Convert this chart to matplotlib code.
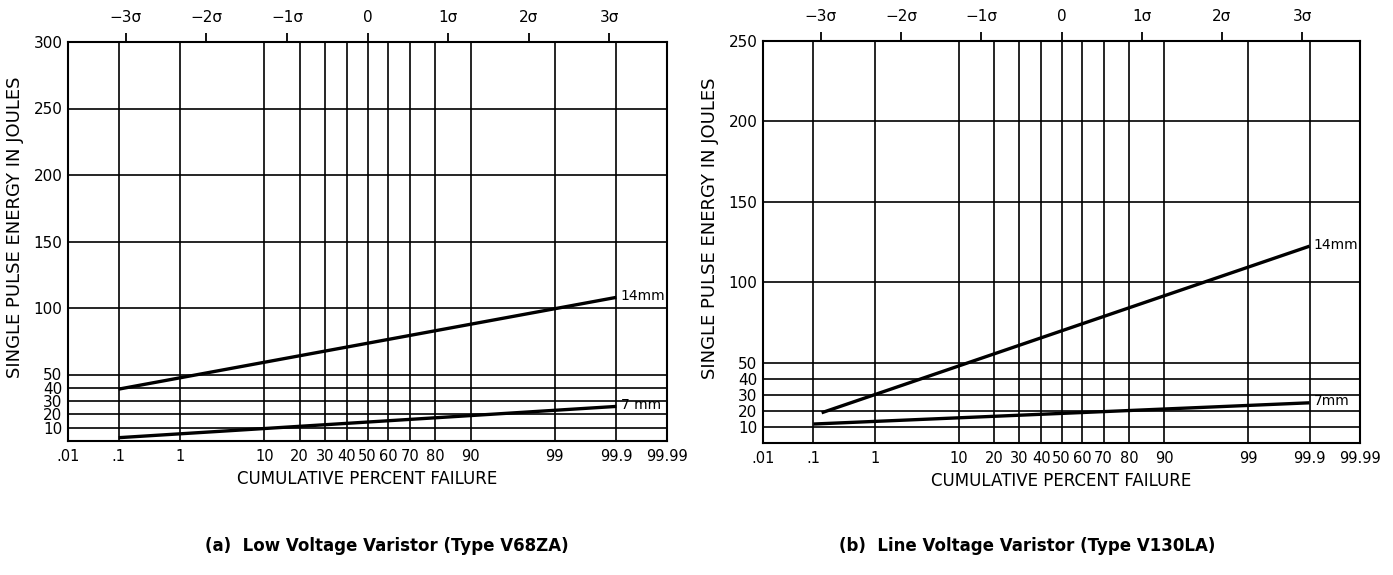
#!/usr/bin/env python
# plot.py
# Single pulse energy vs cumulative percent failure on normal probability paper
# Execution: python3 ./plot.py
import numpy as np
import matplotlib
matplotlib.use("Agg")
import matplotlib.pyplot as plt
from statistics import NormalDist

# ---- data ----
prob_ticks = [0.01, 0.1, 1, 10, 20, 30, 40, 50, 60, 70, 80, 90, 99, 99.9, 99.99]
prob_labels = [".01", ".1", "1", "10", "20", "30", "40", "50", "60", "70", "80", "90", "99", "99.9", "99.99"]
sigma_ticks = [-3, -2, -1, 0, 1, 2, 3]
sigma_labels = ["\u22123\u03c3", "\u22122\u03c3", "\u22121\u03c3", "0", "1\u03c3", "2\u03c3", "3\u03c3"]

# (a) low voltage varistor V68ZA
a_yticks = [10, 20, 30, 40, 50, 100, 150, 200, 250, 300]
a_14mm_prob = [0.1, 99.9]
a_14mm_energy = [39, 108]
a_7mm_prob = [0.1, 99.9]
a_7mm_energy = [2.5, 26]

# (b) line voltage varistor V130LA
b_yticks = [10, 20, 30, 40, 50, 100, 150, 200, 250]
b_14mm_prob = [0.14, 99.9]
b_14mm_energy = [18.8, 122.4]
b_7mm_prob = [0.1, 99.9]
b_7mm_energy = [11.8, 25]

_nd = NormalDist()


def prob_to_sigma(p):
    """percent failure -> standard normal deviate"""
    p = np.clip(np.asarray(p, dtype=float), 1e-6, 100 - 1e-6)
    return np.vectorize(lambda v: _nd.inv_cdf(v / 100.0), otypes=[float])(p)


def sigma_to_prob(s):
    """standard normal deviate -> percent failure"""
    s = np.asarray(s, dtype=float)
    return np.vectorize(lambda v: _nd.cdf(v) * 100.0, otypes=[float])(s)


def probability_panel(fig, rect, yticks, ytop, lines, caption, caption_x):
    """
    Draws one probability-paper panel
    rect is the axes position in figure fractions
    lines is a list of (probs, energies, label)
    """
    ax = fig.add_axes(rect)
    ax.set_xscale("function", functions=(prob_to_sigma, sigma_to_prob))
    ax.set_xlim(0.01, 99.99)
    ax.set_ylim(0, ytop)

    ax.set_xticks(prob_ticks)
    ax.set_xticklabels(prob_labels)
    ax.set_yticks(yticks)
    ax.tick_params(axis="both", length=0, labelsize=10.5, colors="black")
    ax.tick_params(axis="x", pad=6)
    ax.tick_params(axis="y", pad=4, labelsize=11)
    ax.grid(True, color="black", linewidth=1.2)
    ax.set_axisbelow(True)
    for sp in ax.spines.values():
        sp.set_linewidth(1.5)
        sp.set_color("black")

    for probs, energies, label in lines:
        ax.plot(probs, energies, color="black", linewidth=2.4, solid_capstyle="butt", zorder=3)
        ax.annotate(label, (probs[-1], energies[-1]), xytext=(3, 1), textcoords="offset points",
                    ha="left", va="center", fontsize=10, color="black")

    ax.set_ylabel("SINGLE PULSE ENERGY IN JOULES", fontsize=13)
    ax.yaxis.set_label_coords(-0.073, 0.535)
    ax.set_xlabel("CUMULATIVE PERCENT FAILURE", fontsize=12)
    ax.xaxis.set_label_coords(0.5, -0.073)

    # sigma scale along the top
    top = ax.twiny()
    top.set_xlim(prob_to_sigma(0.01), prob_to_sigma(99.99))
    top.set_xticks(sigma_ticks)
    top.set_xticklabels(sigma_labels)
    top.tick_params(axis="x", direction="out", length=6.5, width=1.3, pad=6, labelsize=11)
    for sp in top.spines.values():
        sp.set_visible(False)

    fig.text(caption_x, 1 - 546 / 575, caption, ha="center", va="center", fontsize=12, fontweight="bold")
    return ax


def main():
    W, H = 1393, 575
    fig = plt.figure(figsize=(W / 100, H / 100), dpi=100)

    probability_panel(
        fig, [68 / W, 1 - 441 / H, 599 / W, 399 / H], a_yticks, 300,
        [(a_14mm_prob, a_14mm_energy, "14mm"), (a_7mm_prob, a_7mm_energy, "7 mm")],
        "(a)  Low Voltage Varistor (Type V68ZA)", 387 / W)

    probability_panel(
        fig, [763 / W, 1 - 443 / H, 597 / W, 402 / H], b_yticks, 250,
        [(b_14mm_prob, b_14mm_energy, "14mm"), (b_7mm_prob, b_7mm_energy, "7mm")],
        "(b)  Line Voltage Varistor (Type V130LA)", 1027 / W)

    fig.savefig("out.png", dpi=100)


if __name__ == "__main__":
    main()
